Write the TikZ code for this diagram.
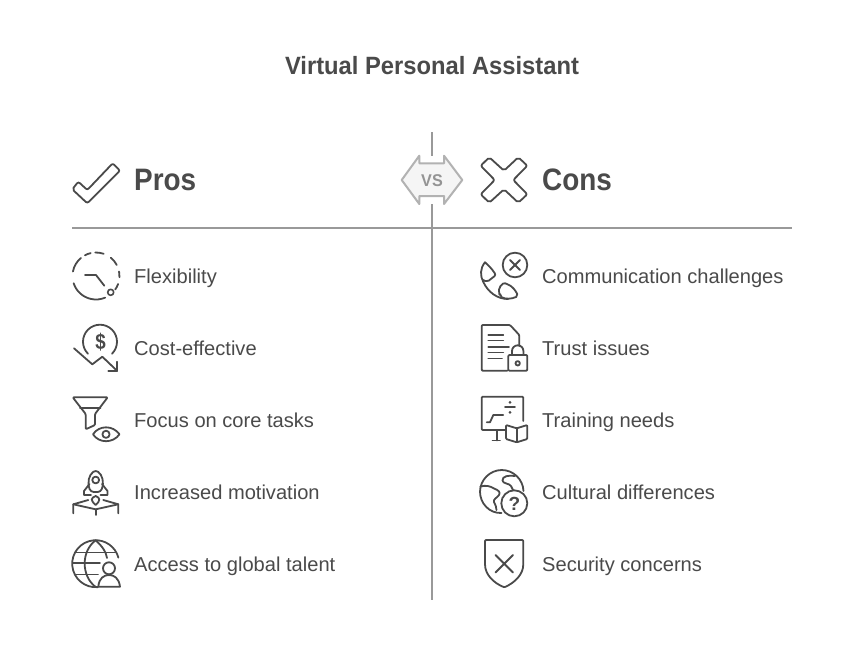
\documentclass[tikz,border=0pt]{standalone}
\usepackage{fontspec}
\setmainfont{Liberation Sans}
\definecolor{ink}{HTML}{4A4A4A}
\definecolor{rulec}{HTML}{999999}
\tikzset{
  ico/.style={draw=ink,line width=1.8pt,line join=round,line cap=round,rounded corners=1pt},
  icosharp/.style={draw=ink,line width=1.8pt,line join=round,line cap=round},
  rulel/.style={draw=rulec,line width=2pt},
  lab/.style={anchor=base west,inner sep=0pt,text=ink,font=\fontsize{20.1}{24}\selectfont},
  head/.style={anchor=base west,inner sep=0pt,text=ink,font=\fontsize{31}{36}\selectfont\bfseries\addfontfeature{FakeStretch=0.9}},
}
\begin{document}
\begin{tikzpicture}[x=1pt,y=-1pt]
\useasboundingbox[fill=white] (0,0) rectangle (864,645);
\node[anchor=base,inner sep=0pt,text=ink,font=\fontsize{25}{30}\selectfont\bfseries\addfontfeature{FakeStretch=0.95}] (title) at (432,74) {Virtual Personal Assistant};
% rules
\coordinate (vtop) at (432,132); \coordinate (vs1) at (432,156);
\coordinate (vs2) at (432,204); \coordinate (vbot) at (432,600);
\coordinate (hl) at (72,228); \coordinate (hr) at (792,228);
\draw[rulel] (vtop)--(vs1); \draw[rulel] (vs2)--(vbot); \draw[rulel] (hl)--(hr);
% VS
\draw[draw=black!30,fill=black!4,line width=2pt,line join=round]
 (401.7,180)--(419.3,155.7)--(419.3,163.3)--(444,163.3)--(444,155.7)--(462.3,180)--(444,204)--(444,196)--(419.3,196)--(419.3,204)--cycle;
\node[inner sep=0pt,text=black!42,font=\fontsize{17}{20}\selectfont\bfseries\addfontfeature{FakeStretch=0.95}] (vs) at (432,180.5) {VS};
% headings
\node[head] (pros) at (134,190) {Pros};
\node[head] (cons) at (542,190) {Cons};
\draw[ico,rounded corners=2pt] (112.7,163.3)--(120,170.7)--(87.3,203.3)--(72.3,189.3)--(78.3,181.7)--(87.3,190)--cycle;
\draw[ico,rounded corners=2pt] (480.7,165.7)--(489.3,157.3)--(504,170.7)--(518.3,157.3)--(527.3,165.7)--(513.3,180)--(527.3,194.3)--(518.3,202.7)--(504,189.3)--(489.3,202.7)--(480.7,194.3)--(494.7,180)--cycle;
% labels
\node[lab] (l1) at (134,283) {Flexibility};
\node[lab] (l2) at (134,355) {Cost-effective};
\node[lab] (l3) at (134,427) {Focus on core tasks};
\node[lab] (l4) at (134,499) {Increased motivation};
\node[lab] (l5) at (134,571) {Access to global talent};
\node[lab] (r1) at (542,283) {Communication challenges};
\node[lab] (r2) at (542,355) {Trust issues};
\node[lab] (r3) at (542,427) {Training needs};
\node[lab] (r4) at (542,499) {Cultural differences};
\node[lab] (r5) at (542,571) {Security concerns};
% flexibility icon
\coordinate (fc) at (96,276);
\draw[icosharp] (fc)++(198:23.5pt) arc[start angle=198,end angle=293,radius=23.5pt];
\foreach \a/\b in {169/130,118/103,92/71,51/28,11/-3,-20/-35}
  \draw[icosharp] (fc)++(\a:23.5pt) arc[start angle=\a,end angle=\b,radius=23.5pt];
\draw[icosharp] (85,275)--(96,275)--(104.3,285.7);
\draw[icosharp,line width=1.6pt] (110.7,292.3) circle (3);
% cost
\coordinate (cc) at (100,341.7);
\draw[icosharp] (cc)++(225:17pt) arc[start angle=225,end angle=-45,radius=17pt];
\node[inner sep=0pt,text=ink,font=\fontsize{22}{24}\selectfont\addfontfeature{FakeStretch=0.85}\bfseries] (dol) at (100.5,342) {\$};
\draw[icosharp] (74,348.3)--(92.3,364.3)--(102.3,356.7)--(117.3,371);
\draw[icosharp] (117.3,361.7)--(117.3,371)--(108.3,371);
% funnel
\draw[ico] (72.7,397.3)--(107.7,397.3)--(95,414)--(95,425)--(85.7,429.3)--(85.7,414)--cycle;
\draw[icosharp] (80,408.3)--(100.5,408.3);
\draw[icosharp] (93,434.3) .. controls (99,425) and (113,425) .. (119.5,434.3) .. controls (113,443.5) and (99,443.5) .. (93,434.3) -- cycle;
\draw[icosharp] (106,434.3) circle (3.6);
% rocket
\draw[ico,rounded corners=3pt] (90.7,492) .. controls (87,482) and (89,475) .. (95.7,470) .. controls (102.4,475) and (104.4,482) .. (100.7,492) -- cycle;
\draw[icosharp] (95.7,480) circle (3.4);
\draw[icosharp] (89.5,484)--(84,491)--(84,495)--(91,495);
\draw[icosharp] (102,484)--(107.5,491)--(107.5,495)--(100.5,495);
\draw[icosharp] (95.7,505) .. controls (90,500) and (91,498) .. (95.7,496) .. controls (100,498) and (101,500) .. (95.7,505) -- cycle;
\draw[icosharp] (73.3,513.3)--(73.3,504.3)--(88.3,500);
\draw[icosharp] (118.3,513.3)--(118.3,504.3)--(103.3,500);
\draw[icosharp] (73.3,504.3)--(95.7,509.3)--(118.3,504.3);
\draw[icosharp] (95.7,509.3)--(95.7,515);
% globe person
\coordinate (gc) at (95.7,563.7);
\draw[icosharp] (gc)++(-85:23.5pt) arc[start angle=-85,end angle=-345,radius=23.5pt];
\draw[icosharp] (95.7,540.3) .. controls (81,551) and (81,576) .. (95.7,587);
\draw[icosharp] (95.7,540.3) .. controls (103,547) and (106,552) .. (107,558);
\draw[icosharp] (76,552.5)--(115,552.5);
\draw[icosharp] (73,563)--(100,563);
\draw[icosharp] (76,574.5)--(98,574.5);
\draw[icosharp] (109,568.3) circle (6);
\draw[icosharp] (98.3,586.7) .. controls (99,578) and (104,575) .. (109,575) .. controls (114,575) and (119,578) .. (120,586.7) -- cycle;
% phone
\draw[icosharp] (515,265) circle (12.3);
\draw[icosharp] (510,260)--(520,270); \draw[icosharp] (520,260)--(510,270);
\draw[ico,rounded corners=2pt] (485,262.3)--(491,268)--(496,275)--(487,282)--(483.3,280);
\draw[icosharp] (485,262.3) .. controls (480,268) and (480,276) .. (483.3,282) .. controls (488,292) and (497,299) .. (508,299);
\draw[ico,rounded corners=2pt] (500,296).. controls (497,288) and (503,282) .. (507,284.3) .. controls (512,286) and (516,291) .. (518,296) .. controls (512,299) and (505,299.5) .. (500,296) -- cycle;
% doc
\draw[ico] (519.3,346)--(519.3,335)--(510,325)--(481.7,325)--(481.7,370.7)--(507.3,370.7);
\draw[icosharp] (488.3,335)--(503.3,335) (488.3,340.5)--(503.3,340.5) (488.3,347.3)--(509,347.3) (488.3,352.5)--(503.3,352.5) (488.3,358.5)--(502,358.5);
\draw[ico] (508.3,355) rectangle (527.3,370.7);
\draw[icosharp] (512,355) -- (512,351) arc[start angle=180,end angle=0,radius=5.7pt] -- (523.4,355);
\draw[icosharp] (517.7,363.3) circle (2.2);
% training
\draw[ico] (505,430)--(481.7,430)--(481.7,396.7)--(523.3,396.7)--(523.3,421);
\draw[icosharp] (496.7,430)--(496.7,440.5) (492.5,440.5)--(500,440.5);
\draw[icosharp] (505,407.3)--(515,407.3);
\fill[ink] (510,402.3) circle (1.5) (510,412.3) circle (1.5);
\draw[icosharp] (486.7,422.3)--(490,422.3)--(493.3,415)--(503.3,415);
\draw[ico] (516.7,428.3)--(506,425)--(506,439)--(516.7,442.3)--(527.3,439)--(527.3,425)--cycle;
\draw[icosharp] (516.7,428.3)--(516.7,442.3);
% cultural
\draw[icosharp] (501.5,513) .. controls (489,513.5) and (480,503) .. (480,491.7) .. controls (480,480) and (490,470) .. (501.7,470) .. controls (513,470) and (523,479) .. (523.5,491);
\draw[icosharp] (480.5,486.5) .. controls (486,485) and (490,486) .. (494,488.5) .. controls (498,490) and (501,492) .. (499,495) .. controls (497,498) and (493,499) .. (494,502) .. controls (495,505) and (497,507) .. (496.5,510);
\draw[icosharp] (515,476) .. controls (509,475) and (502,476) .. (502.5,480.5) .. controls (503,484) and (509,483) .. (511,486) -- (513,490);
\draw[icosharp] (514.3,503.3) circle (13);
\node[inner sep=0pt,text=ink,font=\fontsize{19}{22}\selectfont\bfseries] (q) at (514.3,503.5) {?};
% shield
\draw[ico] (485,540)--(523.3,540)--(523.3,563.3) .. controls (523.3,575) and (514,583) .. (504.3,587.3) .. controls (494,583) and (485,575) .. (485,563.3) -- cycle;
\draw[icosharp] (495.5,555)--(513,572.5) (513,555)--(495.5,572.5);
\end{tikzpicture}
\end{document}
